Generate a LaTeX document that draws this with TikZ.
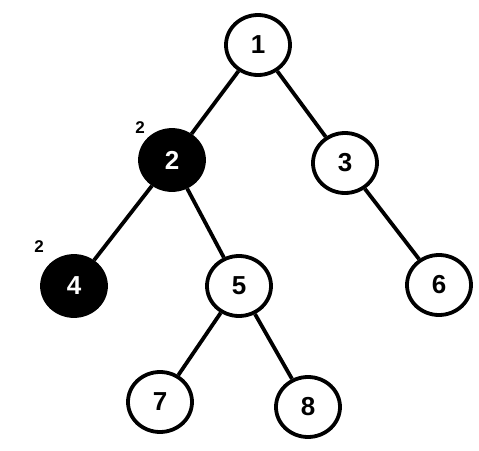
\documentclass[tikz,border=0pt]{standalone}
\usepackage{fontspec}
\setsansfont{Liberation Sans}
\usetikzlibrary{shapes.geometric}
\tikzset{
  vtx/.style={ellipse, draw, line width=1.9pt, fill=white, minimum width=32pt, minimum height=30pt, inner sep=0pt,
    font=\sffamily\bfseries\fontsize{13}{15}\selectfont},
  vtxblk/.style={vtx, fill=black, text=white},
  mark lbl/.style={font=\sffamily\bfseries\fontsize{8.5}{10}\selectfont}
}

\begin{document}
\begin{tikzpicture}[x=0.5pt,y=-0.5pt]
  \useasboundingbox (0,0) rectangle (479,451);
  \node[vtx] (n1) at (258,45) {1};
  \node[vtxblk] (n2) at (172,160) {2};
  \node[vtx] (n3) at (345,163) {3};
  \node[vtxblk] (n4) at (74,286) {4};
  \node[vtx] (n5) at (239,286) {5};
  \node[vtx] (n6) at (439,285) {6};
  \node[vtx] (n7) at (160,402) {7};
  \node[vtx] (n8) at (308,407) {8};
  \foreach \a/\b in {n1/n2, n1/n3, n2/n4, n2/n5, n3/n6, n5/n7, n5/n8}{
    \draw[line width=1.9pt] (\a) -- (\b);
  }
  \node[mark lbl] (c2) at (140,128) {2};
  \node[mark lbl] (c4) at (39,247) {2};
\end{tikzpicture}
\end{document}
